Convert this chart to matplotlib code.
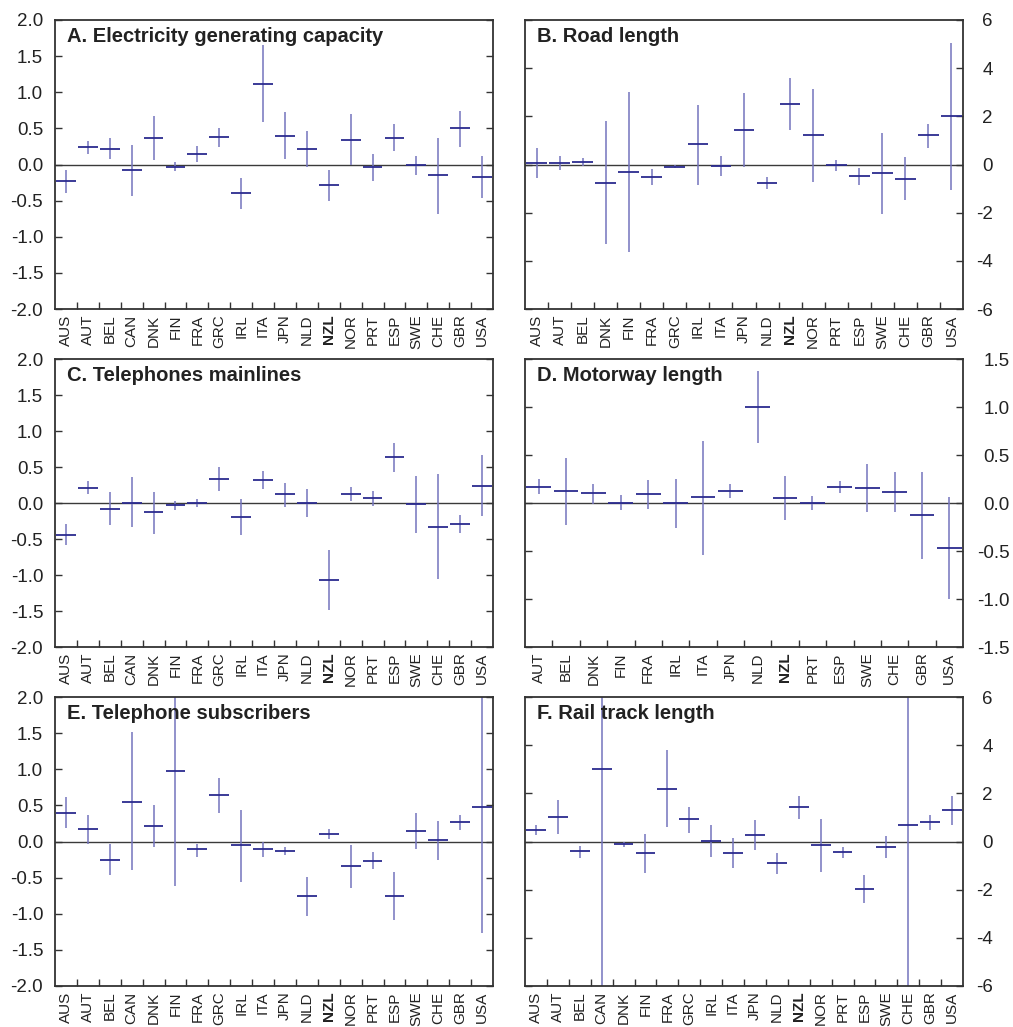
import matplotlib
matplotlib.use("Agg")
import matplotlib.pyplot as plt
import numpy as np

plt.rcParams['font.family'] = ['Liberation Sans', 'DejaVu Sans']

ALL = ["AUS", "AUT", "BEL", "CAN", "DNK", "FIN", "FRA", "GRC", "IRL", "ITA",
       "JPN", "NLD", "NZL", "NOR", "PRT", "ESP", "SWE", "CHE", "GBR", "USA"]

# A. Electricity generating capacity
a_countries = ALL
a_est = [-0.23, 0.24, 0.21, -0.08, 0.37, -0.03, 0.15, 0.38, -0.40, 1.12,
         0.40, 0.21, -0.29, 0.34, -0.04, 0.37, -0.01, -0.15, 0.50, -0.17]
a_low = [-0.40, 0.14, 0.07, -0.43, 0.06, -0.09, 0.03, 0.24, -0.62, 0.59,
         0.08, -0.04, -0.50, -0.01, -0.23, 0.18, -0.15, -0.68, 0.24, -0.46]
a_high = [-0.07, 0.33, 0.37, 0.27, 0.67, 0.03, 0.26, 0.50, -0.18, 1.66,
          0.72, 0.46, -0.07, 0.70, 0.15, 0.56, 0.12, 0.37, 0.74, 0.12]

# B. Road length
b_countries = ["AUS", "AUT", "BEL", "DNK", "FIN", "FRA", "GRC", "IRL", "ITA", "JPN",
               "NLD", "NZL", "NOR", "PRT", "ESP", "SWE", "CHE", "GBR", "USA"]
b_est = [0.05, 0.05, 0.10, -0.77, -0.31, -0.52, -0.09, 0.84, -0.05, 1.42,
         -0.77, 2.52, 1.21, -0.03, -0.49, -0.35, -0.60, 1.21, 2.00]
b_low = [-0.56, -0.23, -0.06, -3.32, -3.64, -0.87, -0.15, -0.84, -0.48, -0.10,
         -1.03, 1.42, -0.73, -0.27, -0.84, -2.06, -1.49, 0.70, -1.06]
b_high = [0.67, 0.34, 0.28, 1.81, 2.99, -0.20, -0.03, 2.49, 0.37, 2.95,
          -0.52, 3.59, 3.14, 0.20, -0.15, 1.32, 0.30, 1.67, 5.04]

# C. Telephones mainlines
c_countries = ALL
c_est = [-0.44, 0.21, -0.08, 0.00, -0.13, -0.03, 0.00, 0.34, -0.20, 0.32,
         0.13, 0.00, -1.07, 0.13, 0.07, 0.64, -0.02, -0.33, -0.29, 0.24]
c_low = [-0.58, 0.12, -0.31, -0.34, -0.43, -0.10, -0.05, 0.17, -0.44, 0.19,
         -0.05, -0.20, -1.49, 0.03, -0.04, 0.43, -0.42, -1.05, -0.41, -0.18]
c_high = [-0.29, 0.30, 0.15, 0.36, 0.15, 0.03, 0.06, 0.50, 0.06, 0.44,
          0.28, 0.19, -0.65, 0.22, 0.17, 0.84, 0.38, 0.40, -0.17, 0.66]

# D. Motorway length
d_countries = ["AUT", "BEL", "DNK", "FIN", "FRA", "IRL", "ITA", "JPN",
               "NLD", "NZL", "PRT", "ESP", "SWE", "CHE", "GBR", "USA"]
d_est = [0.17, 0.12, 0.10, 0.00, 0.09, 0.00, 0.06, 0.13,
         1.00, 0.05, 0.00, 0.17, 0.16, 0.11, -0.13, -0.47]
d_low = [0.09, -0.23, -0.01, -0.07, -0.06, -0.26, -0.54, 0.05,
         0.62, -0.18, -0.07, 0.10, -0.09, -0.09, -0.58, -1.00]
d_high = [0.25, 0.47, 0.20, 0.08, 0.24, 0.25, 0.65, 0.20,
          1.38, 0.28, 0.07, 0.23, 0.41, 0.32, 0.32, 0.06]

# E. Telephone subscribers
e_countries = ALL
e_est = [0.40, 0.17, -0.25, 0.55, 0.22, 0.97, -0.11, 0.64, -0.05, -0.11,
         -0.13, -0.76, 0.11, -0.34, -0.27, -0.75, 0.14, 0.02, 0.27, 0.48]
e_low = [0.19, -0.03, -0.47, -0.40, -0.07, -0.61, -0.21, 0.40, -0.56, -0.22,
         -0.19, -1.03, 0.04, -0.64, -0.38, -1.09, -0.11, -0.25, 0.16, -1.27]
e_high = [0.62, 0.37, -0.03, 1.52, 0.51, 2.55, -0.03, 0.88, 0.44, -0.01,
          -0.08, -0.49, 0.17, -0.05, -0.15, -0.42, 0.39, 0.29, 0.37, 2.23]

# F. Rail track length
f_countries = ALL
f_est = [0.49, 1.02, -0.40, 3.02, -0.10, -0.49, 2.20, 0.92, 0.02, -0.46,
         0.28, -0.91, 1.45, -0.13, -0.45, -1.98, -0.23, 0.67, 0.80, 1.30]
f_low = [0.27, 0.30, -0.69, -9.50, -0.24, -1.31, 0.62, 0.37, -0.66, -1.09,
         -0.37, -1.35, 0.94, -1.26, -0.69, -2.57, -0.69, -9.50, 0.48, 0.70]
f_high = [0.67, 1.74, -0.17, 15.50, -0.01, 0.33, 3.78, 1.45, 0.67, 0.15,
          0.91, -0.48, 1.91, 0.95, -0.23, -1.39, 0.24, 10.80, 1.08, 1.88]

panels = [
    ("A. Electricity generating capacity", a_countries, a_est, a_low, a_high,
     (-2, 2), np.arange(-2, 2.01, 0.5), "{:.1f}", "left"),
    ("B. Road length", b_countries, b_est, b_low, b_high,
     (-6, 6), np.arange(-6, 6.01, 2), "{:.0f}", "right"),
    ("C. Telephones mainlines", c_countries, c_est, c_low, c_high,
     (-2, 2), np.arange(-2, 2.01, 0.5), "{:.1f}", "left"),
    ("D. Motorway length", d_countries, d_est, d_low, d_high,
     (-1.5, 1.5), np.arange(-1.5, 1.51, 0.5), "{:.1f}", "right"),
    ("E. Telephone subscribers", e_countries, e_est, e_low, e_high,
     (-2, 2), np.arange(-2, 2.01, 0.5), "{:.1f}", "left"),
    ("F. Rail track length", f_countries, f_est, f_low, f_high,
     (-6, 6), np.arange(-6, 6.01, 2), "{:.0f}", "right"),
]

W, H = 1013, 1027
fig = plt.figure(figsize=(W / 100, H / 100), dpi=100)

col_x = [55, 525]
row_y = [(20, 309), (359, 647), (697, 986)]
ax_w = 438

VCOL = "#7474bd"
HCOL = "#2b2b8f"
SPINE = "#333333"

for i, (title, cats, est, lo, hi, ylim, yticks, fmt, side) in enumerate(panels):
    r, c = divmod(i, 2)
    top, bot = row_y[r]
    ax = fig.add_axes([col_x[c] / W, 1 - bot / H, ax_w / W, (bot - top) / H])
    n = len(cats)
    x = np.arange(n)
    ax.set_xlim(-0.5, n - 0.5)
    ax.set_ylim(*ylim)

    ax.axhline(0, color="#3a3a3a", lw=1.0, zorder=1)
    ax.vlines(x, lo, hi, color=VCOL, lw=1.1, zorder=2)
    ax.hlines(est, x - 0.45, x + 0.45, color=HCOL, lw=1.3, zorder=3)

    for sp in ax.spines.values():
        sp.set_color(SPINE)
        sp.set_linewidth(1.3)

    # category labels centred, tick marks on category boundaries
    ax.set_xticks(x)
    ax.set_xticklabels(cats, rotation=90, fontsize=11, color="#222222")
    for lbl in ax.get_xticklabels():
        if lbl.get_text() == "NZL":
            lbl.set_fontweight("bold")
    ax.tick_params(axis="x", which="major", length=0, pad=4)
    ax.set_xticks(np.arange(0.5, n - 0.5, 1.0), minor=True)
    ax.tick_params(axis="x", which="minor", direction="in", length=5,
                   width=1.0, color=SPINE, bottom=True, top=False)

    ax.set_yticks(yticks)
    ax.set_yticklabels([fmt.format(v).replace("-0", "-0") for v in yticks])
    ax.tick_params(axis="y", which="major", direction="in", length=5, width=1.0,
                   color=SPINE, left=True, right=True, labelsize=13.5,
                   labelcolor="#222222")
    if side == "left":
        ax.tick_params(axis="y", labelleft=True, labelright=False, pad=8.5)
    else:
        pad = 21.5 if ylim[1] == 6 else 33.5
        ax.tick_params(axis="y", labelleft=False, labelright=True, pad=pad)
        for lbl in ax.get_yticklabels():
            lbl.set_horizontalalignment("right")

    ax.text(0.027, 0.975, title, transform=ax.transAxes, ha="left", va="top",
            fontsize=14.5, fontweight="bold", color="#222222", zorder=5)

fig.savefig("out.png", dpi=100)
